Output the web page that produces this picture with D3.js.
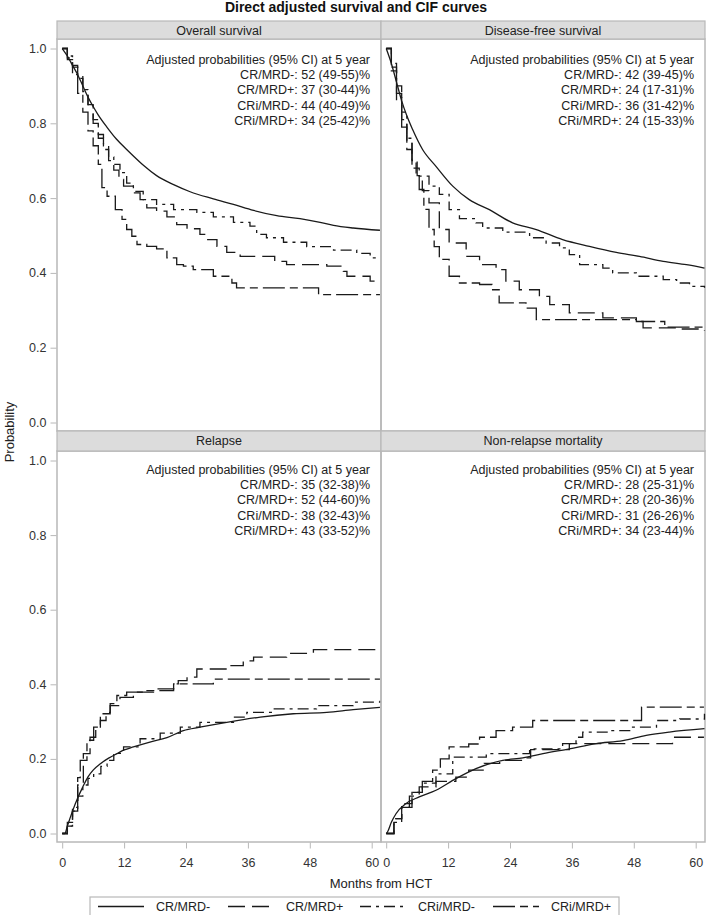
<!DOCTYPE html>
<html><head><meta charset="utf-8">
<script src="https://cdn.jsdelivr.net/npm/d3@7"></script>
<style>body{margin:0;background:#fff} text{font-family:"Liberation Sans",Arial,Helvetica,sans-serif}</style>
</head><body><svg id="c" width="706" height="915"></svg>
<script>
// ---------- data ----------
const title = "Direct adjusted survival and CIF curves";
const groups = ["CR/MRD-", "CR/MRD+", "CRi/MRD-", "CRi/MRD+"];
const panelTitles = ["Overall survival", "Disease-free survival", "Relapse", "Non-relapse mortality"];
const xTicks = [0, 12, 24, 36, 48, 60];
const yTicks = [0, 0.2, 0.4, 0.6, 0.8, 1.0];
const xLabel = "Months from HCT";
const yLabel = "Probability";
const annHeader = "Adjusted probabilities (95% CI) at 5 year";
const annOS  = ["52 (49-55)%", "37 (30-44)%", "44 (40-49)%", "34 (25-42)%"];
const annDFS = ["42 (39-45)%", "24 (17-31)%", "36 (31-42)%", "24 (15-33)%"];
const annRel = ["35 (32-38)%", "52 (44-60)%", "38 (32-43)%", "43 (33-52)%"];
const annNRM = ["28 (25-31)%", "28 (20-36)%", "31 (26-26)%", "34 (23-44)%"];

// [month, probability]
const osCRneg = [[0,1],[1,0.98],[2,0.955],[3,0.93],[4,0.9],[5,0.87],[6,0.845],[7,0.822],[8.66,0.79],[10.5,0.758],[12.5,0.73],[14,0.71],[15.8,0.687],[18.3,0.66],[21.6,0.636],[24.8,0.617],[29.3,0.598],[33.2,0.583],[37.1,0.567],[41.6,0.553],[46.1,0.545],[50,0.535],[52.6,0.527],[56.4,0.52],[61.6,0.514]];
const osCRpos = [[0,1],[1,0.975],[2,0.95],[3,0.92],[4,0.885],[5,0.85],[6,0.8],[7,0.76],[8,0.73],[9,0.7],[10,0.675],[11,0.65],[11.9,0.632],[13.8,0.614],[15.1,0.596],[16.4,0.574],[18.3,0.565],[20.3,0.55],[22.2,0.529],[24.2,0.518],[26.7,0.503],[28,0.489],[30,0.471],[31.9,0.455],[34.5,0.444],[41.2,0.431],[43.5,0.422],[51.3,0.418],[54.5,0.404],[55.2,0.391],[59.7,0.378],[61.6,0.378]];
const osCRiNeg = [[0,1],[1,0.98],[2,0.955],[3,0.925],[4,0.89],[5,0.85],[6,0.81],[7,0.77],[8,0.74],[9,0.71],[10,0.69],[11.2,0.668],[12.5,0.64],[13.8,0.618],[15.7,0.596],[18.3,0.583],[21.6,0.569],[26.1,0.562],[29.3,0.55],[33.2,0.535],[36.4,0.525],[37.7,0.503],[39.6,0.494],[42.9,0.482],[47.4,0.47],[52.6,0.461],[57.1,0.452],[59.7,0.44],[61.6,0.438]];
const osCRiPos = [[0,1],[1,0.97],[2,0.93],[3,0.88],[4,0.83],[5,0.78],[6,0.74],[7,0.69],[7.7,0.628],[8.7,0.605],[10.3,0.569],[11.6,0.543],[12.5,0.516],[13.5,0.498],[14.5,0.476],[16.4,0.471],[18.3,0.464],[20.3,0.44],[22.2,0.422],[23.5,0.418],[25.4,0.409],[29.3,0.391],[32.9,0.373],[33.8,0.36],[49.7,0.342],[61.6,0.342]];

const dfsCRneg = [[0,1],[1,0.96],[2,0.91],[3,0.86],[4,0.82],[5.1,0.784],[7.05,0.73],[9.65,0.685],[12.9,0.632],[16.1,0.596],[20,0.569],[24.5,0.534],[29.1,0.516],[34.2,0.489],[39.4,0.471],[44.6,0.455],[49.1,0.444],[53.7,0.431],[58.2,0.422],[61.7,0.413]];
const dfsCRpos = [[0,1],[1,0.95],[2,0.88],[3,0.81],[4,0.75],[5,0.7],[6,0.66],[7,0.62],[8.3,0.587],[10.3,0.516],[12.2,0.48],[15.5,0.444],[18.1,0.422],[21.3,0.409],[23.2,0.378],[25.8,0.355],[29.7,0.337],[31.7,0.315],[35.5,0.293],[42,0.28],[48.5,0.27],[49.8,0.253],[56.3,0.25],[61.7,0.245]];
const dfsCRiNeg = [[0,1],[1,0.96],[2,0.9],[3,0.83],[4,0.76],[5,0.7],[5.8,0.659],[8.3,0.632],[10.3,0.61],[12.2,0.569],[14.2,0.545],[17.4,0.534],[18.7,0.52],[22.6,0.509],[27.8,0.494],[31,0.48],[33.6,0.467],[35.5,0.449],[37.5,0.422],[42,0.413],[43.9,0.4],[48.5,0.391],[53.7,0.382],[56.3,0.373],[58.8,0.364],[61.7,0.36]];
const dfsCRiPos = [[0,1],[1,0.94],[2,0.86],[3,0.79],[4,0.73],[5,0.68],[6.4,0.623],[7.3,0.57],[8.3,0.516],[9.3,0.47],[10.3,0.436],[12.2,0.391],[14.2,0.373],[18.1,0.369],[20.5,0.355],[21.9,0.32],[25.2,0.32],[27.1,0.306],[29.1,0.275],[48.5,0.27],[54,0.255],[61.7,0.25]];

const relCRneg = [[0,0],[0.5,0],[1,0.02],[2,0.06],[3,0.095],[4,0.125],[5,0.152],[6,0.17],[7.4,0.187],[9,0.202],[10.6,0.214],[12,0.224],[13.8,0.232],[17,0.245],[20.3,0.257],[23.5,0.276],[26.7,0.285],[31.9,0.298],[38.4,0.312],[44.8,0.321],[51.3,0.325],[56.4,0.332],[61.6,0.338]];
const relCRpos = [[0,0],[0.5,0],[1,0.02],[2,0.06],[3,0.13],[4.1,0.214],[5.4,0.258],[6.5,0.28],[7.4,0.303],[8.5,0.325],[9.3,0.343],[11.2,0.365],[13.8,0.379],[17.7,0.388],[21.6,0.401],[22.5,0.41],[24.2,0.419],[26.1,0.441],[31.9,0.45],[35.1,0.463],[37.1,0.473],[43.5,0.483],[48.7,0.493],[61.6,0.493]];
const relCRiNeg = [[0,0],[0.5,0],[1,0.02],[2,0.06],[3,0.1],[4,0.13],[5,0.148],[6.1,0.16],[7.5,0.18],[8.7,0.196],[10,0.215],[11.9,0.232],[15.1,0.254],[19,0.269],[22.9,0.285],[26.7,0.298],[33.2,0.312],[35.8,0.325],[40.9,0.334],[49.3,0.343],[56.4,0.352],[61.6,0.356]];
const relCRiPos = [[0,0],[0.5,0],[1,0.03],[2,0.07],[3,0.15],[3.5,0.196],[4.8,0.25],[6.1,0.285],[7.4,0.321],[9.3,0.348],[10.6,0.37],[12.5,0.379],[15.8,0.383],[21.6,0.401],[29.3,0.414],[61.6,0.414]];

const nrmCRneg = [[0,0],[0.25,0.004],[1,0.03],[1.9,0.053],[3.8,0.08],[6.4,0.098],[9.65,0.116],[13.5,0.147],[17.4,0.174],[22.6,0.196],[26.5,0.203],[30.4,0.214],[35.5,0.227],[40.7,0.241],[45.9,0.249],[50.4,0.263],[54.9,0.272],[61.7,0.281]];
const nrmCRpos = [[0,0],[0.5,0],[1.5,0.04],[3,0.07],[4.5,0.1],[6.4,0.125],[9.65,0.14],[13.5,0.151],[16,0.17],[19,0.188],[22,0.196],[27,0.203],[28,0.225],[35.5,0.241],[55,0.241],[55.5,0.258],[61.6,0.258]];
const nrmCRiNeg = [[0,0],[0.5,0],[1.5,0.04],[3,0.08],[5,0.11],[7,0.135],[9.65,0.16],[12.9,0.205],[19.4,0.214],[27.8,0.227],[34.2,0.241],[36.8,0.258],[38.1,0.272],[43.3,0.276],[47.2,0.285],[52.4,0.303],[56.9,0.307],[61.7,0.321]];
const nrmCRiPos = [[0,0],[0.5,0],[1.5,0.03],[3,0.07],[5,0.11],[7,0.14],[9,0.17],[10.5,0.2],[12.2,0.232],[16,0.24],[18.1,0.258],[21.3,0.276],[24.5,0.285],[28.4,0.303],[49.5,0.339],[61.6,0.339]];

// ---------- layout ----------
const svg = d3.select("#c");
svg.append("rect").attr("width",706).attr("height",915).attr("fill","#fff");
const FONT = '"Liberation Sans", Arial, Helvetica, sans-serif';
const frameCol = "#b8b8b8", headerFill = "#dcdcdc", txt = "#222";
const colX = [57, 381], colW = 324;
const rows = [{hTop:21, top:39, bot:431}, {hTop:431, top:451, bot:842}];
const styles = [
  {dash:null, curve:d3.curveMonotoneX},
  {dash:"17,7", curve:d3.curveStepAfter},
  {dash:"11,5,3,5", curve:d3.curveStepAfter},
  {dash:"22,5,8,5", curve:d3.curveStepAfter}
];
const panels = [
  {title:panelTitles[0], series:[osCRneg, osCRpos, osCRiNeg, osCRiPos], ann:annOS, r:0, c:0},
  {title:panelTitles[1], series:[dfsCRneg, dfsCRpos, dfsCRiNeg, dfsCRiPos], ann:annDFS, r:0, c:1},
  {title:panelTitles[2], series:[relCRneg, relCRpos, relCRiNeg, relCRiPos], ann:annRel, r:1, c:0},
  {title:panelTitles[3], series:[nrmCRneg, nrmCRpos, nrmCRiNeg, nrmCRiPos], ann:annNRM, r:1, c:1}
];

// title
svg.append("text").attr("x", 356).attr("y", 12).attr("text-anchor","middle")
  .attr("font-size", 14).attr("font-weight","bold").attr("fill","#111").text(title);

panels.forEach(p => {
  const row = rows[p.r], x0 = colX[p.c];
  const x = d3.scaleLinear().domain([0,60]).range([x0+5.2, x0+314.7]);
  const y = d3.scaleLinear().domain([0,1]).range([row.bot-8.5, row.top+9.5]);
  const g = svg.append("g");
  g.append("rect").attr("x", x0).attr("y", row.top).attr("width", colW).attr("height", row.bot-row.top)
    .attr("fill","none").attr("stroke", frameCol).attr("stroke-width",1.5);
  g.append("rect").attr("x", x0).attr("y", row.hTop).attr("width", colW).attr("height", row.top-row.hTop)
    .attr("fill", headerFill).attr("stroke", frameCol).attr("stroke-width",1.2);
  g.append("text").attr("x", x0+colW/2).attr("y", row.hTop+13.8).attr("text-anchor","middle")
    .attr("font-size",12.5).attr("fill",txt).text(p.title);
  if (p.c === 0) {
    const ya = g.append("g").attr("transform",`translate(${x0-0.5},0)`)
      .call(d3.axisLeft(y).tickValues(yTicks).tickFormat(d3.format(".1f")).tickSize(6).tickPadding(4));
    ya.select(".domain").remove();
    ya.selectAll("line").attr("stroke", frameCol);
    ya.selectAll("text").attr("font-size",12.5).attr("font-family",FONT).attr("fill","#333");
  }
  if (p.r === 1) {
    const xa = g.append("g").attr("transform",`translate(0,${row.bot+0.5})`)
      .call(d3.axisBottom(x).tickValues(xTicks).tickSize(6).tickPadding(10));
    xa.select(".domain").remove();
    xa.selectAll("line").attr("stroke", frameCol);
    xa.selectAll("text").attr("font-size",12.5).attr("font-family",FONT).attr("fill","#333");
  }
  p.series.forEach((s, i) => {
    const line = d3.line().x(d => x(d[0])).y(d => y(d[1])).curve(styles[i].curve);
    g.append("path").attr("d", line(s)).attr("fill","none").attr("stroke","#1a1a1a")
      .attr("stroke-width",1.3).attr("stroke-dasharray", styles[i].dash);
  });
  const ax = x0 + 313, ay = row.hTop + 42.5;
  g.append("text").attr("x", ax).attr("y", ay).attr("text-anchor","end").attr("font-size",12.5).attr("fill",txt).text(annHeader);
  p.ann.forEach((a, i) => {
    g.append("text").attr("x", ax).attr("y", ay + 15.4*(i+1)).attr("text-anchor","end")
      .attr("font-size",12.5).attr("fill",txt).text(groups[i] + ": " + a);
  });
});

svg.append("text").attr("x", 381).attr("y", 888).attr("text-anchor","middle").attr("font-size",13).attr("fill",txt).text(xLabel);
svg.append("text").attr("transform","translate(14,432) rotate(-90)").attr("text-anchor","middle").attr("font-size",13).attr("fill",txt).text(yLabel);

// legend
const lg = svg.append("g");
lg.append("rect").attr("x",90).attr("y",897).attr("width",529).attr("height",19).attr("fill","#fff").attr("stroke", frameCol).attr("stroke-width",1.2);
const legStarts = [98, 228, 360, 493];
const ly = 906.5;
groups.forEach((gname, i) => {
  const lx = legStarts[i];
  lg.append("line").attr("x1", lx).attr("x2", lx+46).attr("y1", ly).attr("y2", ly)
    .attr("stroke","#1a1a1a").attr("stroke-width",1.3).attr("stroke-dasharray", styles[i].dash);
  lg.append("text").attr("x", lx+58).attr("y", ly+4.5).attr("font-size",12.5).attr("fill",txt).text(gname);
});
</script></body></html>
